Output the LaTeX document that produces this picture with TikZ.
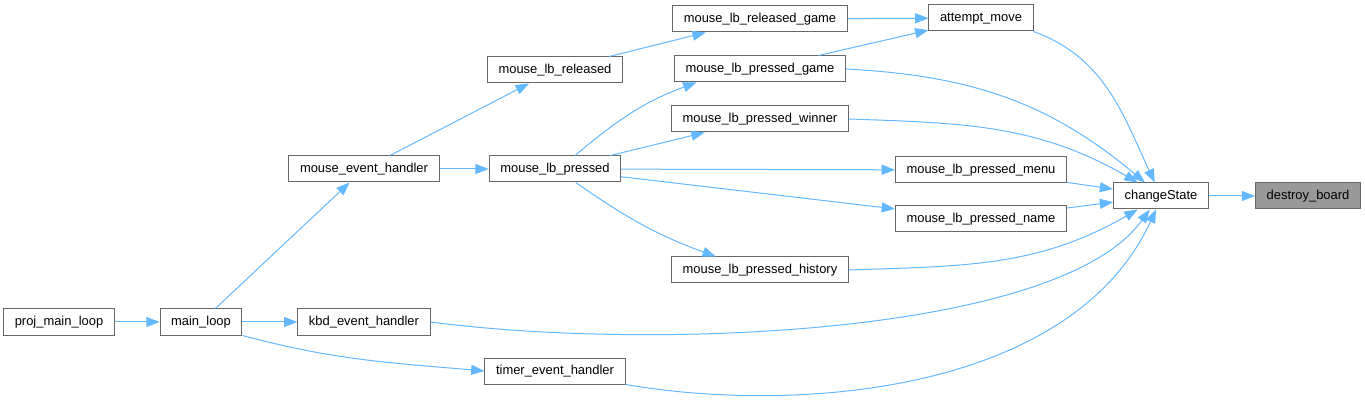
\documentclass[tikz,border=0pt]{standalone}
\usepackage{fontspec}
\setmainfont{Liberation Sans}
\usetikzlibrary{arrows.meta}
\definecolor{edgeblue}{HTML}{63B8FF}
\definecolor{boxgray}{HTML}{666666}
\definecolor{selgray}{HTML}{999999}
\tikzset{
  >={Triangle[length=10pt,width=7.5pt]},
  fnbox/.style={draw=boxgray,fill=white,line width=0.75pt,minimum height=19.5pt,
    inner xsep=8.3pt,inner ysep=0pt,text height=7.2pt,text depth=2.1pt,
    font=\fontsize{9.7}{11}\selectfont},
  fnsel/.style={fnbox,fill=selgray},
  call/.style={->,color=edgeblue,line width=0.75pt},
}

\begin{document}
\begin{tikzpicture}[x=0.75pt,y=0.75pt]
  \useasboundingbox (0,0) rectangle (1365,-406);
  % callers, left to right
  \node[fnbox] (pml)  at (59,-322)  {proj\_main\_loop};
  \node[fnbox] (ml)   at (201,-322) {main\_loop};
  \node[fnbox] (meh)  at (364,-169) {mouse\_event\_handler};
  \node[fnbox] (keh)  at (364,-322) {kbd\_event\_handler};
  \node[fnbox] (mlr)  at (555,-70)  {mouse\_lb\_released};
  \node[fnbox] (mlp)  at (555,-169) {mouse\_lb\_pressed};
  \node[fnbox] (teh)  at (555,-371) {timer\_event\_handler};
  \node[fnbox] (mlrg) at (760,-19)  {mouse\_lb\_released\_game};
  \node[fnbox] (mlpg) at (760,-69)  {mouse\_lb\_pressed\_game};
  \node[fnbox] (mlpw) at (760,-119) {mouse\_lb\_pressed\_winner};
  \node[fnbox] (mlph) at (760,-270) {mouse\_lb\_pressed\_history};
  \node[fnbox] (am)   at (981,-18)  {attempt\_move};
  \node[fnbox] (mlpm) at (981,-170) {mouse\_lb\_pressed\_menu};
  \node[fnbox] (mlpn) at (981,-219) {mouse\_lb\_pressed\_name};
  \node[fnbox] (cs)   at (1161,-196) {changeState};
  \node[fnsel] (db)   at (1308,-196) {destroy\_board};
  % straight calls
  \path[call]
    (pml) edge (ml) (ml) edge (meh) (ml) edge (keh)
    (meh) edge (mlr) (meh) edge (mlp)
    (mlr) edge (mlrg) (mlp) edge (mlpw) (mlp) edge (mlpm) (mlp) edge (mlpn)
    (mlrg) edge (am) (mlpg) edge (am)
    (mlpm) edge (cs) (mlpn) edge (cs) (cs) edge (db);
  % curved calls
  \draw[call] (ml.south east) to[out=-15,in=175] (teh.west);
  \draw[call] (mlp.34) to[out=40,in=-160] (mlpg.192);
  \draw[call] (mlp.-33) to[out=-35,in=160] (mlph.163);
  \draw[call] (am.south east) to[out=-20,in=115] (cs);
  \draw[call] (mlpg.east) to[out=-3,in=140] (cs);
  \draw[call] (mlpw.east) to[out=-2,in=150] (cs);
  \draw[call] (mlph.east) to[out=2,in=-150] (cs);
  \draw[call] (keh.east) .. controls +(221,-29) and +(-90,-126) .. (cs.-130);
  \draw[call] (teh.south east) .. controls +(175,-30) and +(-84,-182) .. (cs.-110);
\end{tikzpicture}
\end{document}
